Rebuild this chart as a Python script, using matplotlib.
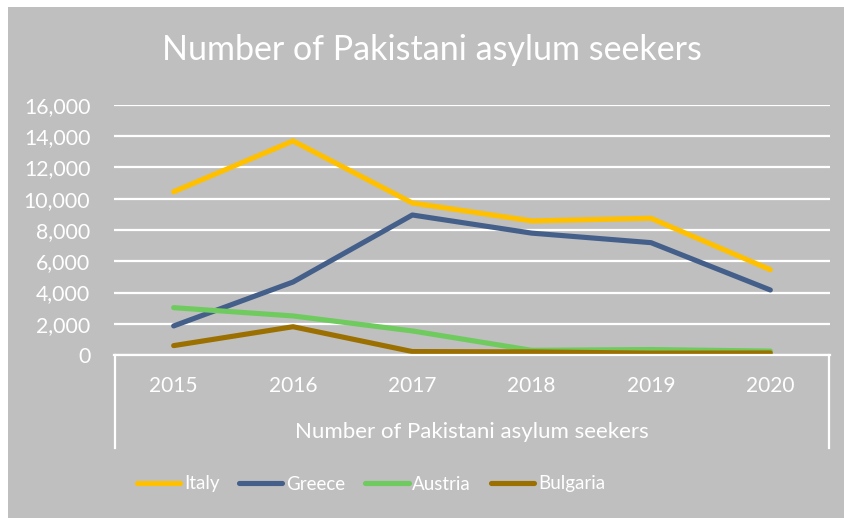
import matplotlib
matplotlib.use("Agg")
import matplotlib.pyplot as plt
from matplotlib.lines import Line2D
from matplotlib.patches import Rectangle

# data
years = ["2015", "2016", "2017", "2018", "2019", "2020"]
italy = [10450, 13700, 9730, 8580, 8750, 5460]
greece = [1860, 4670, 8960, 7800, 7190, 4160]
austria = [3030, 2500, 1540, 300, 350, 250]
bulgaria = [600, 1810, 220, 200, 120, 130]

series = [
    ("Italy", italy, "#FFC000"),
    ("Greece", greece, "#44608A"),
    ("Austria", austria, "#6FCB5E"),
    ("Bulgaria", bulgaria, "#9C7000"),
]

title = "Number of Pakistani asylum seekers"
axis_title = "Number of Pakistani asylum seekers"

W, H = 845, 518
BG = "#BFBFBF"
FONT = "Lato"

fig = plt.figure(figsize=(W / 100, H / 100), dpi=100, facecolor="white")
# gray chart area, white strip on the left and top
fig.patches.append(Rectangle((8 / W, 0), 1 - 8 / W, 1 - 7 / H,
                             transform=fig.transFigure, facecolor=BG,
                             edgecolor="none", zorder=-10))

x0, x1 = 114, 830
y_top, y_bot = 105, 355
ax = fig.add_axes([x0 / W, 1 - y_bot / H, (x1 - x0) / W, (y_bot - y_top) / H])
ax.set_facecolor("none")

xs = list(range(len(years)))
for name, vals, col in series:
    ax.plot(xs, vals, color=col, lw=3.7, solid_capstyle="round",
            solid_joinstyle="round", label=name)

ax.set_xlim(-0.5, len(years) - 0.5)
ax.set_ylim(0, 16000)
ax.set_yticks(range(0, 16001, 2000))
ax.set_yticklabels([f"{v:,}" for v in range(0, 16001, 2000)],
                   fontsize=15.3, color="white", family=FONT)
ax.tick_params(axis="y", length=0, pad=17)
ax.set_xticks([])
ax.grid(axis="y", color="white", lw=1.6)
ax.set_axisbelow(True)
for s in ["top", "right", "left"]:
    ax.spines[s].set_visible(False)
ax.spines["bottom"].set_color("white")
ax.spines["bottom"].set_linewidth(1.6)

# category labels and multi-level axis box
xt = ax.get_xaxis_transform()
for i, yr in enumerate(years):
    ax.text(i, -31 / (y_bot - y_top), yr, transform=xt,
            fontsize=15, color="white", family=FONT, ha="center", va="center")
for px in [x0 + 1, x1 - 1]:
    fig.add_artist(Line2D([px / W, px / W], [1 - y_bot / H, 1 - 448 / H],
                          color="white", lw=1.6, transform=fig.transFigure))
fig.text(472 / W, 1 - 432 / H, axis_title, fontsize=16, color="white",
         family=FONT, ha="center", va="center")

fig.text(432 / W, 1 - 50 / H, title, fontsize=24.5, color="white",
         family=FONT, ha="center", va="center")

leg = fig.legend(loc="center", bbox_to_anchor=(371 / W, 1 - 484 / H), ncol=4,
                 frameon=False, handlelength=2.3, handletextpad=0.2,
                 columnspacing=1.07, borderpad=0, borderaxespad=0,
                 prop={"family": FONT, "size": 13.5})
for t in leg.get_texts():
    t.set_color("white")
for h in leg.legend_handles:
    h.set_solid_capstyle("round")

fig.savefig("out.png", dpi=100, facecolor=fig.get_facecolor())
